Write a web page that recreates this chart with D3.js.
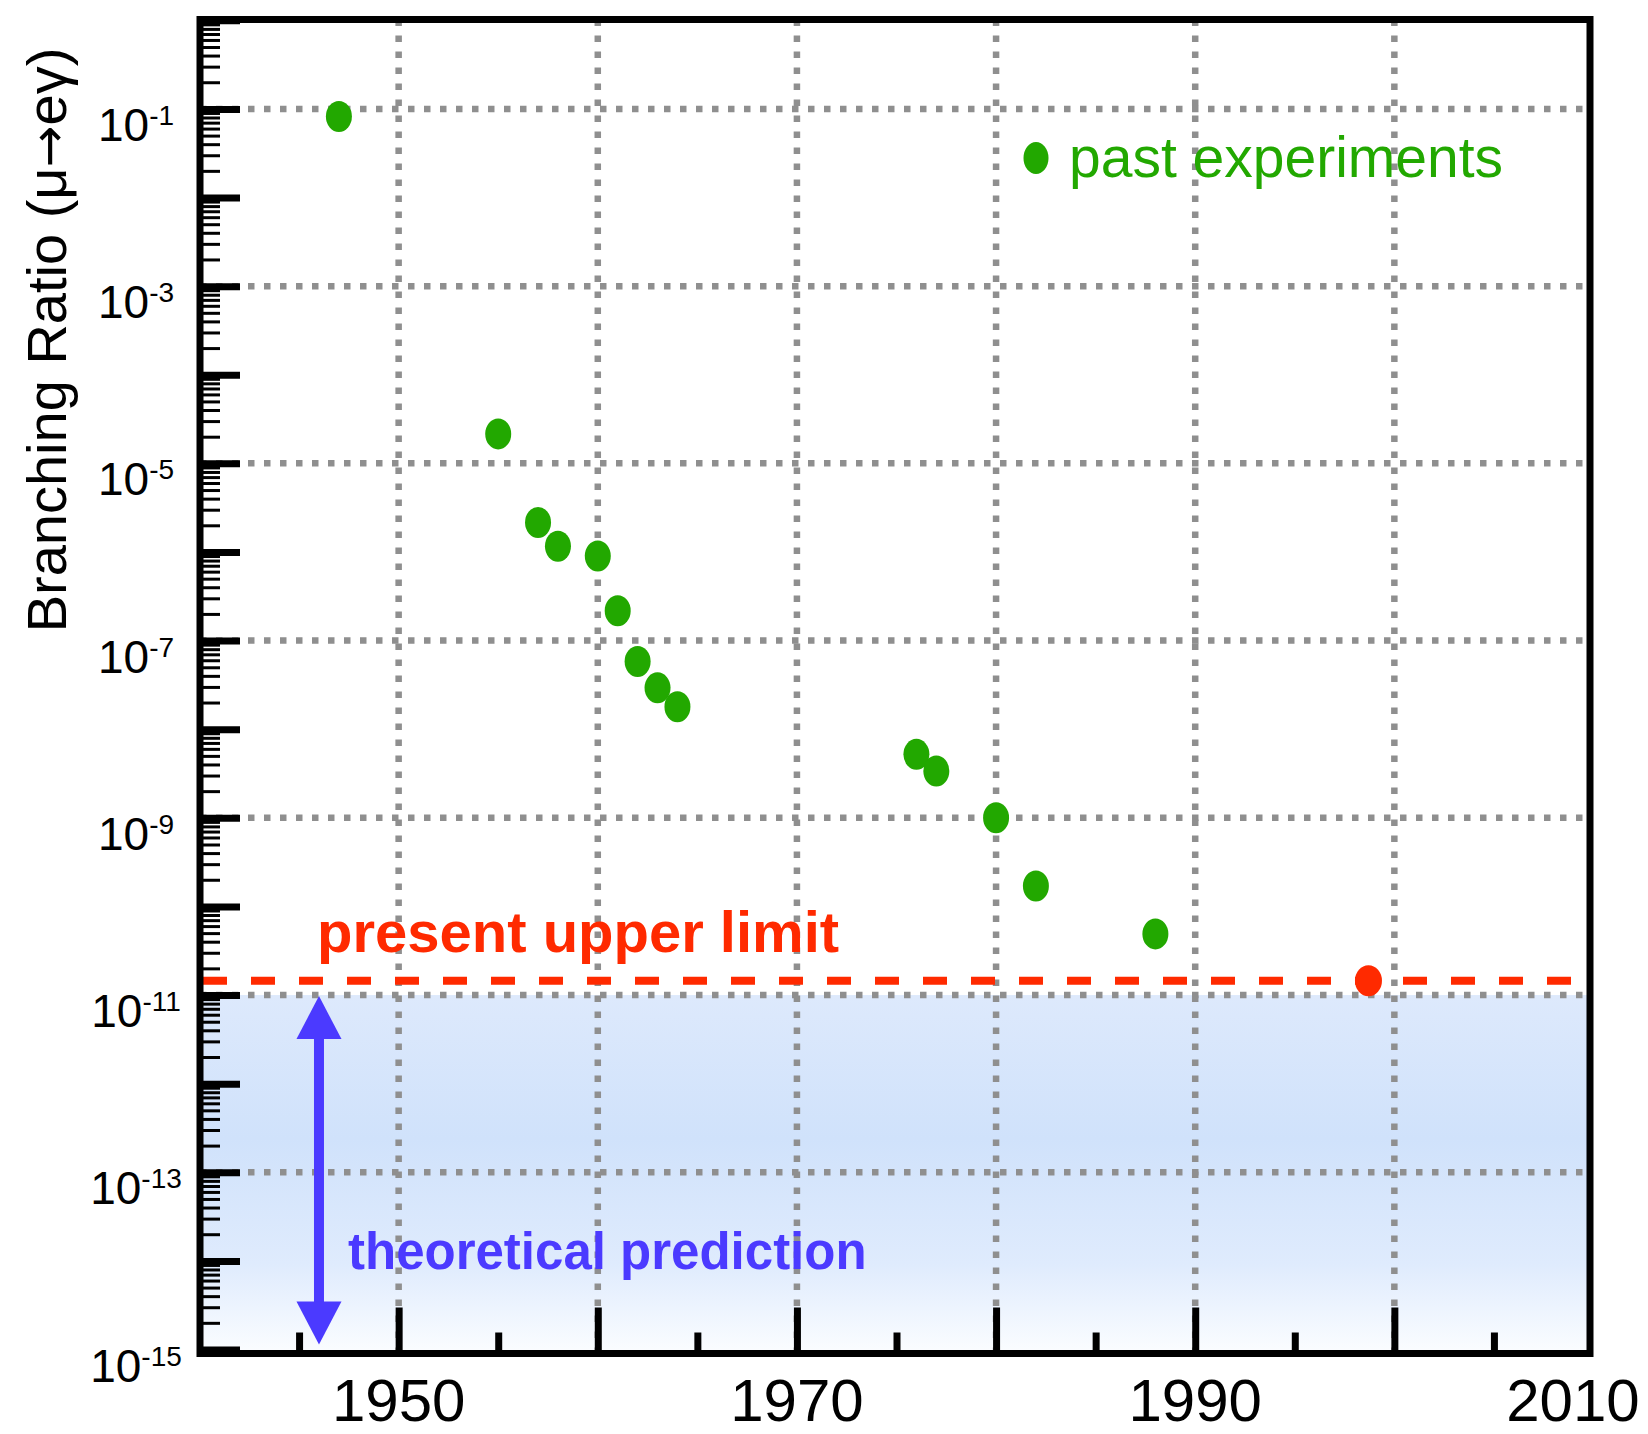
<!doctype html>
<html>
<head>
  <meta charset="utf-8">
  <title>Branching Ratio mu to e gamma</title>
  <script src="https://d3js.org/d3.v7.min.js"></script>
  <style>
    body { margin: 0; background: #fff; }
    svg { display: block; font-family: "Liberation Sans", Arial, Helvetica, sans-serif; }
  </style>
</head>
<body>
<svg width="1648" height="1434"></svg>
<script>
  // past experiments: year and upper limit on BR(mu -> e gamma)
  var years = [1947, 1955, 1957, 1958, 1960, 1961, 1962, 1963, 1964, 1976, 1977, 1980, 1982, 1988]
  var limits = [8.2e-2, 2.15e-5, 2.15e-6, 1.16e-6, 9.0e-7, 2.17e-7, 5.8e-8, 2.93e-8, 1.79e-8, 5.2e-9, 3.37e-9, 1.0e-9, 1.7e-10, 4.9e-11]

  // present upper limit
  var presentYear = 1998.7
  var presentLimit = 1.45e-11

  // theoretical prediction band
  var theoryYear = 1946
  var theoryRange = [1e-15, 1e-11]

  // axes
  var xMajorTicks = [1950, 1960, 1970, 1980, 1990, 2000]
  var xMinorTicks = [1945, 1955, 1965, 1975, 1985, 1995, 2005]
  var xLabels = [1950, 1970, 1990, 2010]
  var yLabelExps = [-1, -3, -5, -7, -9, -11, -13, -15]
  var yGridExps = [-1, -3, -5, -7, -9, -11, -13]

  var green = "#22a800", red = "#ff2a00", blue = "#4b3aff", grey = "#8f8f8f"

  var svg = d3.select("svg")
  // frame edges (window.top is read-only, so no "top" here)
  var fLeft = 200, fRight = 1590, fTop = 19.5, fBottom = 1353.5

  var x = d3.scaleLinear().domain([1940, 2010]).range([199.5, 1593.5])
  var y = d3.scaleLog().domain([1e-15, 1]).range([1349.5, 20.3])

  // gradient for the theory band
  var grad = svg.append("defs").append("linearGradient")
    .attr("id", "band").attr("x1", 0).attr("y1", 0).attr("x2", 0).attr("y2", 1)
  grad.append("stop").attr("offset", "0%").attr("stop-color", "#dde9fc")
  grad.append("stop").attr("offset", "40%").attr("stop-color", "#d0e2fb")
  grad.append("stop").attr("offset", "75%").attr("stop-color", "#dfebfd")
  grad.append("stop").attr("offset", "100%").attr("stop-color", "#fbfdff")

  svg.append("rect")
    .attr("x", fLeft).attr("width", fRight - fLeft)
    .attr("y", y(theoryRange[1])).attr("height", fBottom - y(theoryRange[1]))
    .attr("fill", "url(#band)")

  // dotted grid
  svg.append("g").selectAll("line")
    .data(yGridExps)
    .enter().append("line")
    .attr("x1", fLeft).attr("x2", fRight)
    .attr("y1", function(d) { return y(Math.pow(10, d)) })
    .attr("y2", function(d) { return y(Math.pow(10, d)) })
    .attr("stroke", grey).attr("stroke-width", 6.5).attr("stroke-dasharray", "6.5,9.5")

  svg.append("g").selectAll("line")
    .data(xMajorTicks)
    .enter().append("line")
    .attr("x1", function(d) { return x(d) }).attr("x2", function(d) { return x(d) })
    .attr("y1", fTop).attr("y2", fBottom)
    .attr("stroke", grey).attr("stroke-width", 6.5).attr("stroke-dasharray", "6.5,9.5")

  // y ticks (inside the frame)
  var yMajorVals = d3.range(-15, 1).map(function(e) { return Math.pow(10, e) })
  var yMinorVals = []
  for (var e = -15; e < 0; e++) {
    for (var m = 2; m <= 9; m++) yMinorVals.push(m * Math.pow(10, e))
  }

  svg.append("g")
    .attr("transform", "translate(" + fLeft + ",0)")
    .call(d3.axisRight(y).tickValues(yMajorVals).tickSize(40).tickFormat(""))
    .call(function(g) { g.select(".domain").remove() })
    .selectAll("line").attr("stroke", "#000").attr("stroke-width", 7)

  svg.append("g")
    .attr("transform", "translate(" + fLeft + ",0)")
    .call(d3.axisRight(y).tickValues(yMinorVals).tickSize(20).tickFormat(""))
    .call(function(g) { g.select(".domain").remove() })
    .selectAll("line").attr("stroke", "#000").attr("stroke-width", 3)

  // x ticks (inside the frame)
  svg.append("g")
    .attr("transform", "translate(0," + fBottom + ")")
    .call(d3.axisTop(x).tickValues(xMajorTicks).tickSize(46).tickFormat(""))
    .call(function(g) { g.select(".domain").remove() })
    .selectAll("line").attr("stroke", "#000").attr("stroke-width", 7)

  svg.append("g")
    .attr("transform", "translate(0," + fBottom + ")")
    .call(d3.axisTop(x).tickValues(xMinorTicks).tickSize(21).tickFormat(""))
    .call(function(g) { g.select(".domain").remove() })
    .selectAll("line").attr("stroke", "#000").attr("stroke-width", 7)

  // present upper limit dashed line
  svg.append("line")
    .attr("x1", fLeft + 3).attr("x2", fRight - 3)
    .attr("y1", y(presentLimit)).attr("y2", y(presentLimit))
    .attr("stroke", red).attr("stroke-width", 8).attr("stroke-dasharray", "24,24")

  // past experiments
  svg.append("g").selectAll("ellipse")
    .data(years)
    .enter().append("ellipse")
    .attr("cx", function(d) { return x(d) })
    .attr("cy", function(d, i) { return y(limits[i]) })
    .attr("rx", 13).attr("ry", 15.5)
    .attr("fill", green)

  svg.append("ellipse")
    .attr("cx", x(presentYear)).attr("cy", y(presentLimit))
    .attr("rx", 13.5).attr("ry", 15.5)
    .attr("fill", red)

  // theory double arrow
  var ax = x(theoryYear)
  var aTop = y(theoryRange[1]) + 1
  var aBot = y(theoryRange[0]) - 5
  var headH = 43, headW = 22.5
  var arrow = svg.append("g").attr("fill", blue)
  arrow.append("line")
    .attr("x1", ax).attr("x2", ax).attr("y1", aTop + headH - 2).attr("y2", aBot - headH + 2)
    .attr("stroke", blue).attr("stroke-width", 10)
  arrow.append("path")
    .attr("d", "M" + ax + "," + aTop + "L" + (ax - headW) + "," + (aTop + headH) + "L" + (ax + headW) + "," + (aTop + headH) + "Z")
  arrow.append("path")
    .attr("d", "M" + ax + "," + aBot + "L" + (ax - headW) + "," + (aBot - headH) + "L" + (ax + headW) + "," + (aBot - headH) + "Z")

  // annotations
  svg.append("text")
    .attr("x", 317).attr("y", 952)
    .attr("font-size", "58px").attr("font-weight", "bold").attr("fill", red)
    .text("present upper limit")

  svg.append("text")
    .attr("x", 348).attr("y", 1269)
    .attr("font-size", "51px").attr("font-weight", "bold").attr("fill", blue)
    .text("theoretical prediction")

  // legend
  svg.append("ellipse")
    .attr("cx", 1036).attr("cy", 158).attr("rx", 12.5).attr("ry", 16)
    .attr("fill", green)
  svg.append("text")
    .attr("x", 1069).attr("y", 177)
    .attr("font-size", "57px").attr("fill", green)
    .text("past experiments")

  // frame
  svg.append("rect")
    .attr("x", fLeft).attr("y", fTop)
    .attr("width", fRight - fLeft).attr("height", fBottom - fTop)
    .attr("fill", "none").attr("stroke", "#000").attr("stroke-width", 7)

  // y tick labels
  var yl = svg.append("g").selectAll("text")
    .data(yLabelExps)
    .enter().append("text")
    .attr("x", 136)
    .attr("y", function(d) { return y(Math.pow(10, d)) + 32 })
    .attr("text-anchor", "middle")
    .attr("font-size", "46px")
  yl.append("tspan").text("10")
  yl.append("tspan").attr("dy", -16).attr("font-size", "28px").text(function(d) { return "-" + Math.abs(d) })

  // x tick labels
  svg.append("g").selectAll("text")
    .data(xLabels)
    .enter().append("text")
    .attr("x", function(d) { return Math.min(x(d), 1573) })
    .attr("y", 1421)
    .attr("text-anchor", "middle")
    .attr("font-size", "60px")
    .text(function(d) { return d })

  // y title
  var title = svg.append("text")
    .attr("transform", "translate(66,340) rotate(-90)")
    .attr("text-anchor", "middle")
    .attr("font-size", "56px")
  title.append("tspan").text("Branching Ratio (\u03bc")
  title.append("tspan").attr("font-family", "DejaVu Sans").attr("font-size", "50px").text("\u2192")
  title.append("tspan").text("e\u03b3)")
</script>
</body>
</html>
